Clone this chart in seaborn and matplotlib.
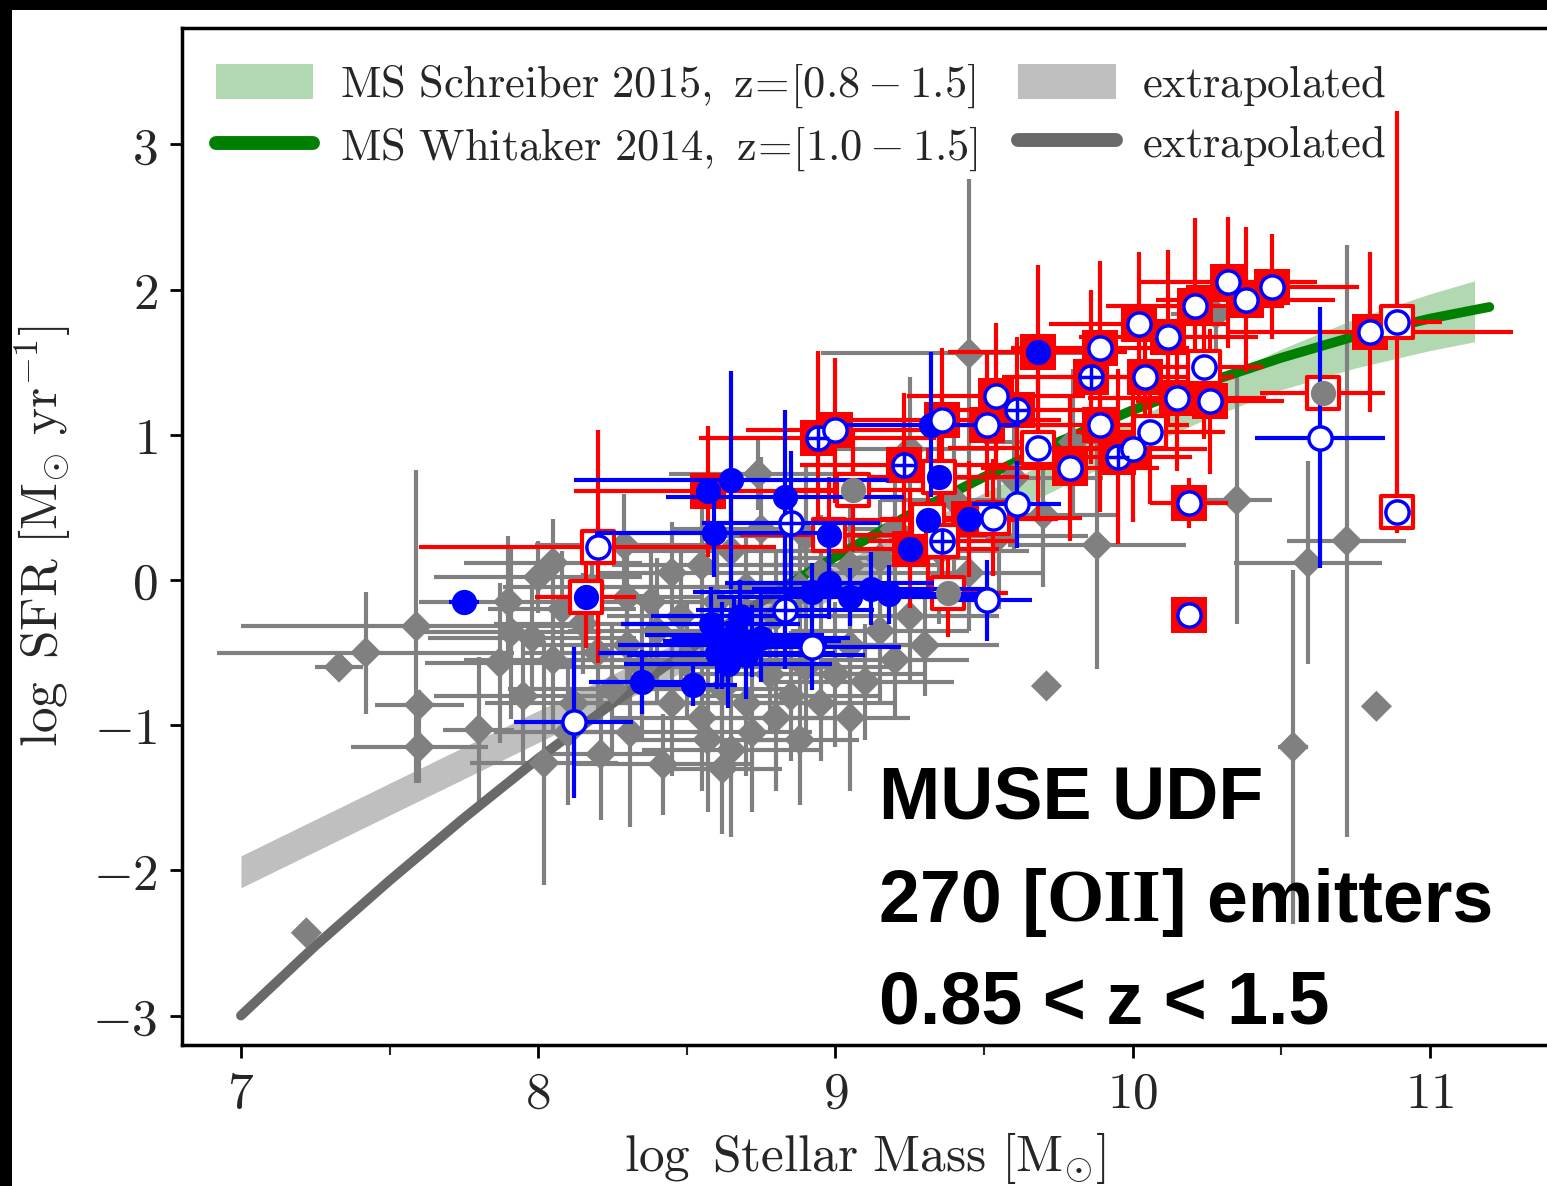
import numpy as np
import pandas as pd
import matplotlib
matplotlib.use("Agg")
import matplotlib.pyplot as plt
import seaborn as sns
from matplotlib.patches import Rectangle, Patch
from matplotlib.lines import Line2D
from matplotlib.ticker import FuncFormatter, MultipleLocator

# ---------------- data ----------------
# Main sequence Whitaker 2014
ms_w_ext_x = [7.0, 7.25, 7.5, 7.75, 8.0, 8.25, 8.5, 8.75, 8.85]
ms_w_ext_y = [-3.0, -2.52, -2.07, -1.64, -1.23, -0.85, -0.49, -0.15, -0.02]
ms_w_x = [8.85, 9.0, 9.25, 9.5, 9.75, 10.0, 10.25, 10.5, 10.75, 11.0, 11.2]
ms_w_y = [-0.02, 0.16, 0.45, 0.71, 0.95, 1.17, 1.36, 1.53, 1.68, 1.80, 1.88]

# Main sequence Schreiber 2015 band (lower / upper)
ms_s_ext_x = [7.0, 9.5]
ms_s_ext_lo = [-2.12, 0.38]
ms_s_ext_hi = [-1.90, 0.60]
ms_s_x = [9.5, 10.0, 10.25, 10.5, 10.75, 11.0, 11.15]
ms_s_lo = [0.38, 0.88, 1.11, 1.31, 1.46, 1.58, 1.64]
ms_s_hi = [0.60, 1.10, 1.35, 1.59, 1.80, 1.97, 2.06]

# grey sample (log M, log SFR, xerr, yerr)
grey_x = [7.33, 7.42, 7.59, 7.60, 7.60, 7.80, 7.91, 7.87, 8.00, 8.05, 8.29, 8.30, 7.22, 8.74,
          9.45, 9.88, 9.71, 10.35, 10.54, 10.59, 10.72, 10.82, 10.28,
          8.02, 8.21, 8.42, 8.57, 8.65, 8.31, 8.72, 8.12, 8.25, 8.35, 8.45, 8.50, 8.55, 8.62,
          8.70, 8.78, 8.80, 8.85, 8.90, 8.95, 9.00, 9.05, 9.10, 9.15, 9.20, 9.25, 9.30, 8.40,
          8.30, 8.20, 8.15, 8.08, 8.18, 8.38, 8.48, 8.60, 8.70, 8.80, 8.88, 8.95, 9.05, 9.15,
          8.55, 8.65, 8.45, 8.75, 8.90, 9.20, 9.35, 9.45, 9.55, 9.40, 9.60, 9.70, 9.80, 9.25,
          7.95, 8.05, 8.10, 7.98, 7.90, 8.62, 8.88, 9.05]
grey_y = [-0.60, -0.50, -0.32, -0.86, -1.15, -1.03, -0.36, -0.57, 0.02, 0.12, 0.24, -0.12, -2.43, 0.73,
          1.56, 0.24, -0.73, 0.55, -1.15, 0.12, 0.27, -0.87, 1.83,
          -1.26, -1.20, -1.27, -1.10, -1.17, -1.05, -1.05, -0.85, -0.75, -0.60, -0.85, -0.55, -0.95, -0.75,
          -0.85, -0.65, -0.95, -0.80, -0.60, -0.85, -0.65, -0.45, -0.70, -0.35, -0.55, -0.25, -0.45, -0.35,
          -0.45, -0.50, -0.30, -0.20, -0.05, -0.15, -0.25, -0.15, -0.05, -0.25, -0.05, 0.05, 0.10, 0.15,
          0.10, 0.20, 0.05, 0.35, 0.30, 0.35, 0.20, 0.05, 0.30, 0.55, 0.70, 0.45, 0.95, 0.90,
          -0.80, -0.55, -1.05, -0.40, -0.15, -1.30, -1.10, -0.95]
grey_xerr = [0.08, 0.50, 0.59, 0.15, 0.23, 0.12, 0.30, 0.25, 0.35, 0.30, 0.30, 0.25, 0.0, 0.30,
             0.50, 0.30, 0.0, 0.12, 0.05, 0.25, 0.20, 0.0, 0.15,
             0.25, 0.20, 0.30, 0.25, 0.30, 0.25, 0.20, 0.30, 0.35, 0.30, 0.25, 0.40, 0.30, 0.25,
             0.35, 0.30, 0.25, 0.30, 0.30, 0.25, 0.30, 0.25, 0.30, 0.30, 0.25, 0.30, 0.25, 0.30,
             0.30, 0.25, 0.30, 0.25, 0.30, 0.30, 0.25, 0.30, 0.35, 0.30, 0.30, 0.25, 0.30, 0.30,
             0.30, 0.35, 0.25, 0.30, 0.30, 0.25, 0.30, 0.25, 0.30, 0.25, 0.30, 0.25, 0.30, 0.30,
             0.30, 0.30, 0.25, 0.35, 0.30, 0.20, 0.20, 0.20]
grey_yerr = [0.05, 0.42, 1.08, 0.10, 0.25, 0.50, 0.60, 0.55, 0.25, 0.30, 0.35, 0.30, 0.0, 0.25,
             1.20, 0.85, 0.0, 0.85, 1.22, 0.70, 2.04, 0.0, 0.30,
             0.84, 0.45, 0.35, 0.50, 0.60, 0.65, 0.55, 0.40, 0.45, 0.50, 0.50, 0.40, 0.50, 0.45,
             0.50, 0.40, 0.50, 0.45, 0.50, 0.40, 0.50, 0.45, 0.40, 0.50, 0.40, 0.45, 0.35, 0.50,
             0.40, 0.45, 0.35, 0.40, 0.30, 0.40, 0.45, 0.50, 0.40, 0.45, 0.50, 0.40, 0.45, 0.40,
             0.40, 0.45, 0.35, 0.50, 0.50, 0.45, 0.50, 0.40, 0.50, 0.50, 0.50, 0.50, 0.50, 0.50,
             0.45, 0.50, 0.50, 0.40, 0.45, 0.45, 0.45, 0.50]

# MUSE [OII] emitters (blue circles; optional red squares behind)
gal_x = [7.75, 8.16, 8.20, 8.12, 8.35, 8.52, 8.57, 8.65, 8.59, 8.83, 8.85, 8.94, 9.00, 8.98, 8.83, 8.92,
         8.58, 8.62, 8.66, 8.70, 8.72, 8.64, 8.68, 8.75, 8.60,
         8.92, 8.98, 9.05, 9.12, 9.18,
         9.23, 9.25, 9.31, 9.35, 9.36, 9.32, 9.36, 9.45, 9.53, 9.51, 9.51, 9.54, 9.61, 9.61, 9.68, 9.68,
         9.79, 9.86, 9.89, 9.89, 9.95, 10.00, 10.02, 10.04, 10.06, 10.12, 10.15, 10.21, 10.24, 10.26,
         10.19, 10.19, 10.32, 10.38, 10.47, 10.63, 10.64, 10.80, 10.89, 10.89, 9.06, 9.38]
gal_y = [-0.15, -0.12, 0.23, -0.98, -0.70, -0.72, 0.61, 0.69, 0.32, 0.57, 0.39, 0.98, 1.03, 0.31, -0.21, -0.46,
         -0.30, -0.45, -0.38, -0.52, -0.42, -0.58, -0.25, -0.40, -0.50,
         -0.08, -0.02, -0.12, -0.06, -0.10,
         0.79, 0.21, 0.41, 0.71, 0.27, 1.07, 1.10, 0.42, 0.43, -0.14, 1.07, 1.27, 1.17, 0.52, 0.91, 1.57,
         0.77, 1.40, 1.60, 1.07, 0.85, 0.90, 1.76, 1.40, 1.02, 1.67, 1.25, 1.89, 1.47, 1.23,
         0.53, -0.24, 2.05, 1.93, 2.02, 0.98, 1.29, 1.71, 1.78, 0.47, 0.62, -0.09]
gal_xerr = [0.05, 0.17, 0.60, 0.20, 0.18, 0.15, 0.45, 0.53, 0.40, 0.40, 0.30, 0.40, 0.30, 0.30, 0.30, 0.30,
            0.30, 0.35, 0.30, 0.40, 0.30, 0.35, 0.30, 0.30, 0.40,
            0.40, 0.35, 0.45, 0.40, 0.35,
            0.35, 0.30, 0.30, 0.30, 0.25, 0.30, 0.40, 0.30, 0.30, 0.15, 0.30, 0.30, 0.30, 0.15, 0.30, 0.30,
            0.30, 0.30, 0.30, 0.30, 0.25, 0.25, 0.30, 0.30, 0.25, 0.30, 0.30, 0.30, 0.20, 0.25,
            0.13, 0.0, 0.30, 0.30, 0.29, 0.22, 0.21, 0.48, 0.15, 0.0, 0.25, 0.20]
gal_yerr = [0.04, 0.35, 0.80, 0.52, 0.22, 0.15, 0.45, 0.75, 0.30, 0.60, 0.50, 0.60, 0.50, 0.40, 0.40, 0.30,
            0.25, 0.30, 0.25, 0.30, 0.25, 0.30, 0.25, 0.30, 0.25,
            0.20, 0.25, 0.20, 0.25, 0.20,
            0.50, 0.40, 0.50, 0.50, 0.40, 0.50, 0.50, 0.40, 0.40, 0.28, 0.50, 0.50, 0.50, 0.30, 0.50, 0.60,
            0.50, 0.60, 0.60, 0.60, 0.60, 0.50, 0.50, 0.50, 0.50, 0.60, 0.50, 0.60, 0.50, 0.50,
            0.17, 0.0, 0.45, 0.50, 0.36, 0.90, 0.0, 0.55, 1.45, 0.15, 0.40, 0.30]
gal_circle = (['filled', 'filled', 'open', 'open', 'filled', 'filled', 'filled', 'filled', 'filled', 'filled',
               'cross', 'cross', 'open', 'filled', 'cross', 'open']
              + ['filled'] * 9 + ['filled'] * 5
              + ['cross', 'filled', 'filled', 'filled', 'cross', 'filled', 'open', 'filled', 'open', 'open',
                 'open', 'open', 'cross', 'open', 'open', 'filled',
                 'open', 'cross', 'open', 'open', 'cross', 'open', 'open', 'open', 'open', 'open', 'open',
                 'open', 'open', 'open',
                 'open', 'open', 'open', 'open', 'open', 'open', 'grey', 'open', 'open', 'open', 'grey', 'grey'])
gal_square = (['none', 'open', 'open', 'none', 'none', 'none', 'filled', 'none', 'none', 'none',
               'none', 'filled', 'filled', 'open', 'none', 'none']
              + ['none'] * 9 + ['none'] * 5
              + ['filled', 'filled', 'open', 'open', 'open', 'none', 'filled', 'filled', 'open', 'none',
                 'filled', 'filled', 'filled', 'none', 'open', 'filled',
                 'filled', 'filled', 'filled', 'filled', 'filled', 'filled', 'filled', 'filled', 'open',
                 'filled', 'filled', 'filled', 'open', 'filled',
                 'filled', 'filled', 'filled', 'filled', 'filled', 'none', 'open', 'filled', 'open', 'open',
                 'open', 'open'])

x_ticks = [7, 8, 9, 10, 11]
y_ticks = [-3, -2, -1, 0, 1, 2, 3]

# ---------------- style ----------------
sns.set_style("ticks")
plt.rcParams["mathtext.fontset"] = "cm"
plt.rcParams["font.family"] = ["DejaVu Serif"]

W, H = 1547, 1186
fig = plt.figure(figsize=(W / 100, H / 100), dpi=100)
fig.patch.set_facecolor("white")
ax_l, ax_r, ax_t, ax_b = 181.5, 1548.8, 28.2, 1044.6
ax = fig.add_axes([ax_l / W, 1 - ax_b / H, (ax_r - ax_l) / W, (ax_b - ax_t) / H])
ax.set_facecolor("white")

# black frame strips (top and left)
fig.add_artist(Rectangle((0, 1 - 10 / H), 1, 10 / H, transform=fig.transFigure,
                         facecolor="black", edgecolor="none", zorder=10))
fig.add_artist(Rectangle((0, 0), 12 / W, 1, transform=fig.transFigure,
                         facecolor="black", edgecolor="none", zorder=10))

gdf = pd.DataFrame({"x": grey_x, "y": grey_y, "xe": grey_xerr, "ye": grey_yerr})
mdf = pd.DataFrame({"x": gal_x, "y": gal_y, "xe": gal_xerr, "ye": gal_yerr,
                    "c": gal_circle, "s": gal_square})

# main sequence bands (behind everything)
ax.fill_between(ms_s_ext_x, ms_s_ext_lo, ms_s_ext_hi, color="grey", alpha=0.5, lw=0, zorder=0.5)
ax.fill_between(ms_s_x, ms_s_lo, ms_s_hi, color="green", alpha=0.3, lw=0, zorder=0.5)

# grey sample
ax.errorbar(gdf.x, gdf.y, xerr=gdf.xe, yerr=gdf.ye, fmt="none", ecolor="grey",
            elinewidth=3, capsize=0, zorder=1)
sns.scatterplot(data=gdf, x="x", y="y", marker="D", s=250, color="grey",
                edgecolor="none", linewidth=0, ax=ax, zorder=2, legend=False)

# main sequence lines
sns.lineplot(x=ms_w_ext_x, y=ms_w_ext_y, color="dimgray", lw=7, ax=ax, zorder=1.5,
             sort=False, estimator=None)
sns.lineplot(x=ms_w_x, y=ms_w_y, color="green", lw=7, ax=ax, zorder=1.5,
             sort=False, estimator=None)

# red squares with error bars
sq = mdf[mdf.s != "none"]
ax.errorbar(sq.x, sq.y, xerr=sq.xe, yerr=sq.ye, fmt="none", ecolor="red",
            elinewidth=3, capsize=0, zorder=4)
sqf = sq[sq.s == "filled"]
sqo = sq[sq.s == "open"]
sns.scatterplot(data=sqf, x="x", y="y", marker="s", s=700, color="red",
                edgecolor="red", linewidth=0, ax=ax, zorder=5, legend=False)
sns.scatterplot(data=sqo, x="x", y="y", marker="s", s=560, color="white",
                edgecolor="red", linewidth=3, ax=ax, zorder=5, legend=False)

# blue circles
nb = mdf[mdf.s == "none"]
ax.errorbar(nb.x, nb.y, xerr=nb.xe, yerr=nb.ye, fmt="none", ecolor="blue",
            elinewidth=3, capsize=0, zorder=6)
cf = mdf[mdf.c == "filled"]
co = mdf[mdf.c.isin(["open", "cross"])]
cc = mdf[mdf.c == "cross"]
cg = mdf[mdf.c == "grey"]
sns.scatterplot(data=cf, x="x", y="y", marker="o", s=330, color="blue",
                edgecolor="blue", linewidth=0, ax=ax, zorder=7, legend=False)
sns.scatterplot(data=co, x="x", y="y", marker="o", s=280, color="white",
                edgecolor="blue", linewidth=2.5, ax=ax, zorder=7, legend=False)
ax.scatter(cc.x, cc.y, marker="+", s=260, color="blue", linewidths=2.5, zorder=8)
sns.scatterplot(data=cg, x="x", y="y", marker="o", s=330, color="grey",
                edgecolor="grey", linewidth=0, ax=ax, zorder=7, legend=False)

# axes
ax.set_xlim(6.8, 11.4)
ax.set_ylim(-3.2, 3.8)
ax.set_xticks(x_ticks)
ax.set_yticks(y_ticks)
ax.xaxis.set_minor_locator(MultipleLocator(0.5))
fmt = FuncFormatter(lambda v, p: r"$%d$" % int(round(v)))
ax.xaxis.set_major_formatter(fmt)
ax.yaxis.set_major_formatter(fmt)
ax.tick_params(axis="both", which="major", direction="out", length=9, width=2,
               labelsize=37, color="black")
ax.tick_params(axis="x", which="major", pad=9)
ax.tick_params(axis="y", which="major", pad=8)
ax.tick_params(axis="x", which="minor", direction="out", length=7, width=1.5)
for sp in ax.spines.values():
    sp.set_linewidth(2.5)
    sp.set_color("black")
ax.set_xlabel(r"$\log\ \mathrm{Stellar\ Mass}\ [\mathrm{M}_{\odot}]$", fontsize=37, labelpad=8)
ax.set_ylabel(r"$\log\ \mathrm{SFR}\ [\mathrm{M}_{\odot}\ \mathrm{yr}^{-1}]$", fontsize=37, labelpad=14)

# legend
handles = [Patch(facecolor="green", alpha=0.3, edgecolor="none"),
           Line2D([], [], color="green", lw=10),
           Patch(facecolor="grey", alpha=0.5, edgecolor="none"),
           Line2D([], [], color="dimgray", lw=10)]
labels = [r"$\mathrm{MS\ Schreiber\ 2015,\ z\!=\![0.8 - 1.5]}$",
          r"$\mathrm{MS\ Whitaker\ 2014,\ z\!=\![1.0 - 1.5]}$",
          r"$\mathrm{extrapolated}$",
          r"$\mathrm{extrapolated}$"]
leg = ax.legend(handles, labels, ncol=2, loc="upper left", frameon=False,
                bbox_to_anchor=(0.025, 0.967), borderaxespad=0, borderpad=0,
                fontsize=32, handlelength=2.2, handleheight=0.85, handletextpad=0.6,
                columnspacing=0.9, labelspacing=0.33)

# annotation (OII rendered in a serif face as in the original)
fig.canvas.draw()
renderer = fig.canvas.get_renderer()
fig.text(879 / W, 1 - 820 / H, "MUSE UDF", fontsize=53, fontweight="bold",
         family="Liberation Sans", ha="left", va="baseline", color="black", zorder=11)
x0 = 879.0
for piece, fam in [("270 [", "Liberation Sans"), ("OII", "Liberation Serif"), ("] emitters", "Liberation Sans")]:
    t = fig.text(x0 / W, 1 - 922 / H, piece, fontsize=53, fontweight="bold",
                 family=fam, ha="left", va="baseline", color="black", zorder=11)
    x0 += t.get_window_extent(renderer).width
fig.text(879 / W, 1 - 1024 / H, "0.85 < z < 1.5", fontsize=53, fontweight="bold",
         family="Liberation Sans", ha="left", va="baseline", color="black", zorder=11)

fig.savefig("out.png", dpi=100, facecolor="white")
